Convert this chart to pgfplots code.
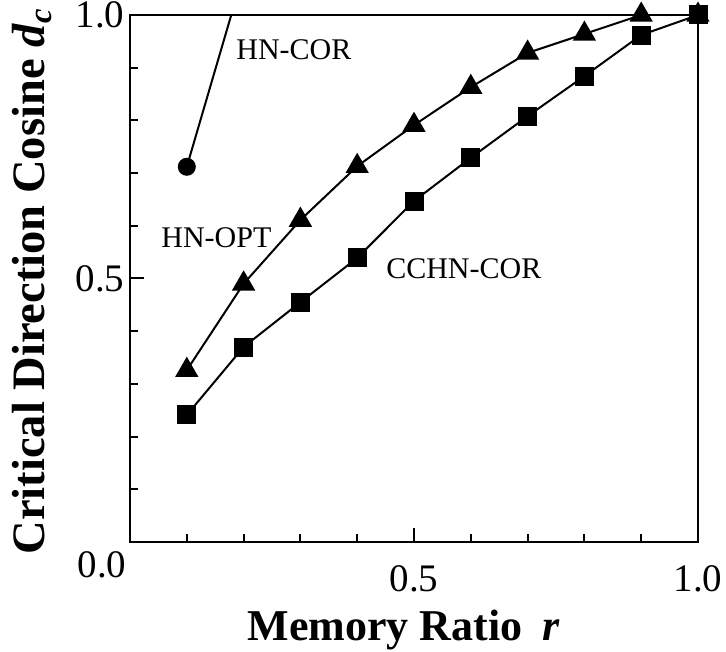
\documentclass[border=0pt]{standalone}
\usepackage{pgfplots}
\pgfplotsset{compat=1.18}
\usepackage{fontspec}
\setmainfont{Liberation Serif}
\begin{document}
\begin{tikzpicture}
\begin{axis}[
  scale only axis,
  width=568pt, height=527pt,
  xmin=0, xmax=1, ymin=0, ymax=1,
  clip mode=individual,
  axis line style={line width=2.4pt},
  tick pos=left, tick align=inside,
  xtick={0,0.5,1}, xticklabels={,0.5,1.0},
  ytick={0,0.5,1}, yticklabels={,0.5,1.0},
  minor x tick num=4, minor y tick num=4,
  major tick length=14pt, minor tick length=8pt,
  every tick/.style={line width=2pt, black},
  tick label style={font=\fontsize{39}{39}\selectfont},
  xticklabel style={yshift=-20pt},
  yticklabel style={xshift=-2pt},
  xlabel={\textbf{Memory Ratio}\hspace{0.45em}\textbf{\textit{r}}},
  ylabel={\textbf{Critical Direction Cosine \textit{d}\textsubscript{\textit{c}}}},
  xlabel style={font=\fontsize{44}{44}\selectfont,
    at={([xshift=114pt,yshift=-98pt]axis description cs:0,0)}, anchor=base west},
  ylabel style={font=\fontsize{46.5}{46.5}\selectfont,
    at={([xshift=-85pt]axis description cs:0,0.494)}, anchor=base},
]
% HN-OPT
\addplot[black, line width=2pt, mark=triangle*, mark size=11.5pt] coordinates {
  (0.1,0.326) (0.2,0.490) (0.3,0.611) (0.4,0.713) (0.5,0.791)
  (0.6,0.863) (0.7,0.928) (0.8,0.964) (0.9,1.000) (1.0,1.000)};
% CCHN-COR
\addplot[black, line width=2pt, mark=square*, mark size=8.5pt] coordinates {
  (0.1,0.241) (0.2,0.370) (0.3,0.455) (0.4,0.539) (0.5,0.647)
  (0.6,0.729) (0.7,0.808) (0.8,0.884) (0.9,0.962) (1.0,1.000)};
% HN-COR
\addplot[black, line width=2pt, mark=*, mark size=8pt, mark indices={1}] coordinates {
  (0.1,0.712) (0.2,1.080)};
\node[anchor=base west, font=\fontsize{30}{30}\selectfont] at (axis cs:0.181,0.915) {HN-COR};
\node[anchor=base west, font=\fontsize{30}{30}\selectfont] at (axis cs:0.049,0.558) {HN-OPT};
\node[anchor=base west, font=\fontsize{30}{30}\selectfont] at (axis cs:0.445,0.500) {CCHN-COR};
\node[anchor=east, font=\fontsize{39}{39}\selectfont] at ([yshift=-23pt]rel axis cs:0,0) {0.0};
\coordinate (bl) at (rel axis cs:0,0);
\coordinate (tr) at (rel axis cs:1,1);
\end{axis}
\pgfresetboundingbox
\path ([shift={(-130pt,-109pt)}]bl) rectangle ([shift={(28pt,15pt)}]tr);
\end{tikzpicture}
\end{document}
